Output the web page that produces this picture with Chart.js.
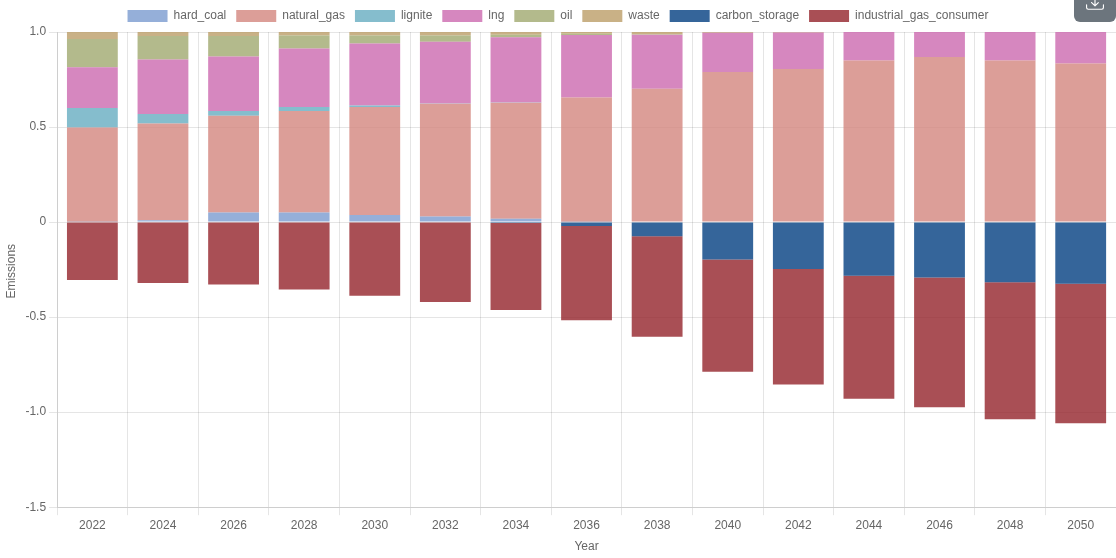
<!DOCTYPE html>
<html><head><meta charset="utf-8">
<style>
html,body{margin:0;padding:0;background:#fff;overflow:hidden}
#wrap{position:relative;width:1116px;height:558px}
canvas{display:block}
#dl{position:absolute;right:0;top:0;width:42px;height:22px;background:#6c757d;border-radius:0 0 6px 6px;overflow:hidden}
#dl svg{position:absolute;left:12px;top:-7px}
</style>
<script src="https://cdn.jsdelivr.net/npm/chart.js@4"></script>
</head><body>
<div id="wrap"><canvas id="c" width="1116" height="558"></canvas>
<div id="dl"><svg width="18" height="18" viewBox="0 0 16 16" fill="#fff"><path d="M.5 9.9a.5.5 0 0 1 .5.5v2.5a1 1 0 0 0 1 1h12a1 1 0 0 0 1-1v-2.5a.5.5 0 0 1 1 0v2.5a2 2 0 0 1-2 2H2a2 2 0 0 1-2-2v-2.5a.5.5 0 0 1 .5-.5z"/><path d="M7.65 11.85a.5.5 0 0 0 .7 0l3-3a.5.5 0 0 0-.7-.7L8.5 10.3V1.5a.5.5 0 0 0-1 0v8.8L5.35 8.15a.5.5 0 1 0-.7.7l3 3z"/></svg></div>
</div>
<script>
const years = ["2022","2024","2026","2028","2030","2032","2034","2036","2038","2040","2042","2044","2046","2048","2050"];
const hard_coal = [0.002,0.010,0.050,0.050,0.037,0.030,0.018,0.002,0,0,0,0,0,0,0];
const natural_gas = [0.495,0.508,0.510,0.534,0.568,0.593,0.610,0.653,0.702,0.789,0.805,0.850,0.868,0.850,0.834];
const lignite = [0.103,0.050,0.024,0.021,0.008,0.001,0.001,0,0,0,0,0,0,0,0];
const lng = [0.215,0.287,0.287,0.308,0.326,0.325,0.343,0.329,0.284,0.207,0.192,0.150,0.132,0.150,0.166];
const oil = [0.148,0.124,0.108,0.068,0.042,0.032,0.014,0.007,0.002,0,0,0,0,0,0];
const waste = [0.037,0.021,0.021,0.019,0.019,0.019,0.014,0.009,0.012,0.004,0.003,0,0,0,0];
const carbon_storage = [0,0,0,0,0,0,-0.005,-0.021,-0.074,-0.197,-0.247,-0.282,-0.292,-0.316,-0.324];
const industrial_gas_consumer = [-0.305,-0.321,-0.329,-0.355,-0.387,-0.421,-0.457,-0.495,-0.529,-0.590,-0.608,-0.647,-0.682,-0.721,-0.734];
const tickColor = "#666";
const fills = {
 hard_coal:"rgba(122,155,208,0.8)", natural_gas:"rgba(211,134,126,0.8)", lignite:"rgba(102,172,192,0.8)",
 lng:"rgba(204,105,175,0.8)", oil:"rgba(160,169,111,0.8)", waste:"rgba(188,158,104,0.8)",
 carbon_storage:"rgba(3,63,129,0.8)", industrial_gas_consumer:"rgba(147,35,42,0.8)"
};
const series = {hard_coal,natural_gas,lignite,lng,oil,waste,carbon_storage,industrial_gas_consumer};
new Chart(document.getElementById("c"),{
 type:"bar",
 data:{labels:years,datasets:Object.keys(series).map(k=>({label:k,data:series[k],backgroundColor:fills[k],borderWidth:0}))},
 options:{
  responsive:false,animation:false,
  plugins:{legend:{position:"top",labels:{color:tickColor,font:{size:12,family:"Liberation Sans"}}},tooltip:{enabled:false}},
  scales:{
   x:{stacked:true,title:{display:true,text:"Year",color:tickColor,font:{size:12,family:"Liberation Sans"}},ticks:{color:tickColor,font:{size:12,family:"Liberation Sans"}}},
   y:{stacked:true,min:-1.5,max:1,title:{display:true,text:"Emissions ",color:tickColor,font:{size:12,family:"Liberation Sans"}},
      ticks:{stepSize:0.5,color:tickColor,font:{size:12,family:"Liberation Sans"}}}
  }
 }
});
</script></body></html>
